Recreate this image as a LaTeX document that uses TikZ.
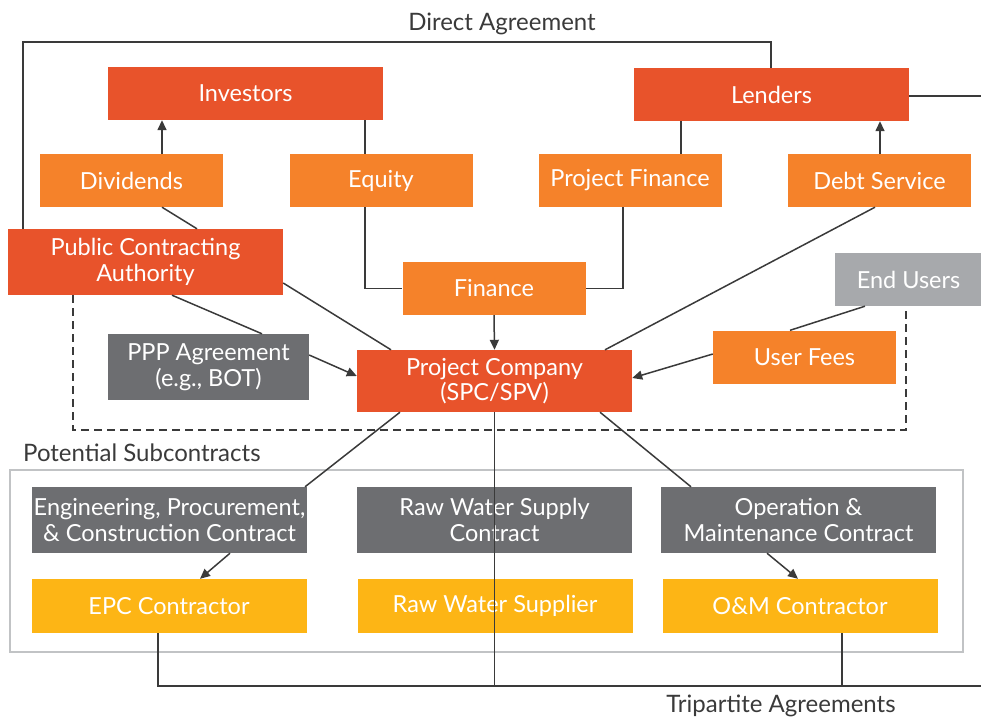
\documentclass[tikz,border=0pt]{standalone}
\usepackage{fontspec}
\setmainfont{Lato}
\usetikzlibrary{arrows.meta}
\definecolor{pppred}{HTML}{E8532B}
\definecolor{ppporange}{HTML}{F5822A}
\definecolor{pppgray}{HTML}{6D6E71}
\definecolor{ppplight}{HTML}{A7A9AC}
\definecolor{pppyellow}{HTML}{FDB515}
\definecolor{pppline}{HTML}{3A3A3A}
\tikzset{
	box/.style={inner sep=0pt, text=white, align=center, font=\fontsize{23.5}{25.5}\selectfont},
	redbox/.style={box, fill=pppred, minimum width=275pt, minimum height=53pt},
	orangebox/.style={box, fill=ppporange, minimum width=183pt, minimum height=53pt},
	graybox/.style={box, fill=pppgray, minimum width=275pt, minimum height=66pt},
	yellowbox/.style={box, fill=pppyellow, minimum width=275pt, minimum height=54pt},
	caption/.style={inner sep=0pt, text=pppline, font=\fontsize{24}{26}\selectfont},
	link/.style={draw=pppline, line width=1.5pt},
	arr/.style={link, -{Triangle[length=10pt,width=9pt]}},
}
\begin{document}
\begin{tikzpicture}[x=1pt,y=-1pt]
	\useasboundingbox (0,0) rectangle (981,720);

	% boxes
	\node[redbox] (inv) at (245.5,93.5) {Investors};
	\node[redbox] (lend) at (771.5,94.5) {Lenders};
	\node[orangebox] (div) at (131.5,180.5) {Dividends};
	\node[orangebox] (eq) at (381,180.5) {Equity};
	\node[orangebox] (pfin) at (630,180.5) {Project Finance};
	\node[orangebox] (debt) at (879.5,180.5) {Debt Service};
	\node[redbox, minimum height=66pt] (pca) at (145.5,262) {Public Contracting\\Authority};
	\node[orangebox] (fin) at (494,288.5) {Finance};
	\node[box, fill=ppplight, minimum width=147pt, minimum height=53pt] (endu) at (908.5,279.5) {End Users};
	\node[graybox, minimum width=201pt] (ppp) at (208.5,367) {PPP Agreement\\(e.g., BOT)};
	\node[redbox, minimum height=62pt] (spv) at (494.5,381) {Project Company\\(SPC/SPV)};
	\node[orangebox] (fees) at (804.5,357) {User Fees};

	\node[graybox] (epcc) at (169.5,520) {Engineering, Procurement,\\\& Construction Contract};
	\node[graybox] (rwc) at (494.5,520) {Raw Water Supply\\Contract};
	\node[graybox] (omc) at (798.5,520) {Operation \&\\Maintenance Contract};
	\node[yellowbox] (epc) at (169,606) {EPC Contractor};
	\node[yellowbox] (rws) at (495,606) {Raw Water Supplier};
	\node[yellowbox] (om) at (800,606) {O\&M Contractor};

	% captions
	\node[caption] (dirlbl) at (502,24) {Direct Agreement};
	\node[caption, anchor=west] (sublbl) at (23,453) {Potential Subcontracts};
	\node[caption] (trilbl) at (781,706) {Tripartite Agreements};

	\coordinate (lendR) at (981,96);
	\coordinate (triR) at (981,686);

	% finance side
	\draw[arr] (div.north -| 162,0) -- (inv.south -| 162,0);
	\draw[link] (eq.north -| 365,0) -- (inv.south -| 365,0);
	\draw[link] (eq.south -| 365,0) |- (fin.west);
	\draw[link] (pfin.north -| 681,0) -- (lend.south -| 681,0);
	\draw[link] (pfin.south -| 623,0) |- (fin.east);
	\draw[arr] (debt.north -| 880,0) -- (lend.south -| 880,0);
	\draw[arr] (fin.south) -- (spv.north);
	\draw[link] (debt.south -| 875,0) -- (spv.north -| 605,0);
	\draw[link] (lend.east |- lendR) -- (lendR);

	% public side
	\draw[link] (div.south -| 162,0) -- (pca.north -| 197,0);
	\draw[link] (pca.east |- 0,283) -- (spv.north -| 391,0);
	\draw[link] (pca.south -| 172,0) -- (ppp.north -| 262,0);
	\draw[arr] (ppp.east |- 0,355) -- (spv.west |- 0,376);
	\draw[link] (endu.south -| 865,0) -- (fees.north -| 790,0);
	\draw[arr] (fees.west |- 0,354) -- (spv.east |- 0,378);
	\draw[link] (pca.north -| 23,0) -- (23,42) -| (lend.north -| 771,0);
	\draw[draw=pppline, line width=1.5pt, dash pattern=on 8pt off 5pt]
		(pca.south -| 73,0) -- (73,430) -- (906,430) -- (endu.south -| 906,0);

	% subcontracts
	\draw[draw=ppplight!70, line width=1.5pt] (10,470) rectangle (963,652);
	\draw[link] (spv.south -| 400,0) -- (epcc.north -| 305,0);
	\draw[link] (spv.south -| 600,0) -- (omc.north -| 691,0);
	\draw[arr] (epcc.south -| 230,0) -- (epc.north -| 200,0);
	\draw[arr] (omc.south -| 767,0) -- (om.north -| 798,0);
	\draw[link] (spv.south) -- (spv.south |- triR);
	\draw[link] (epc.south -| 158,0) |- (triR);
	\draw[link] (om.south -| 842,0) -- (842,686);
\end{tikzpicture}
\end{document}
